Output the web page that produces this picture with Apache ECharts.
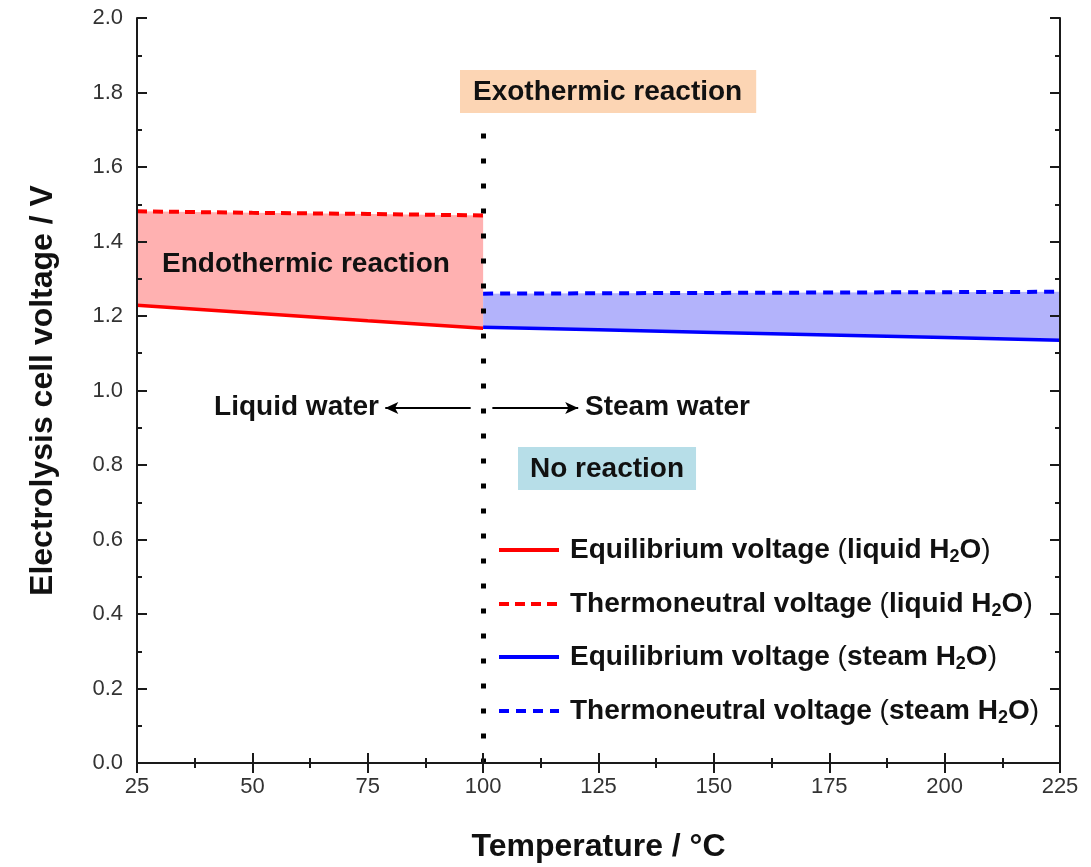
<!DOCTYPE html>
<html>
<head>
<meta charset="utf-8">
<script src="https://cdn.jsdelivr.net/npm/echarts@6/dist/echarts.min.js"></script>
<style>html,body{margin:0;padding:0;background:#fff}#c{width:1091px;height:867px}</style>
</head>
<body>
<div id="c"></div>
<script>
// Data
var liquidT = [25, 50, 75, 100];
var liquidEq = [1.229, 1.208, 1.187, 1.167];
var liquidTn = [1.481, 1.477, 1.474, 1.470];
var steamT = [100, 125, 150, 175, 200, 225];
var steamEq = [1.170, 1.163, 1.156, 1.149, 1.142, 1.135];
var steamTn = [1.260, 1.261, 1.262, 1.263, 1.264, 1.265];
var xTicks = [25, 50, 75, 100, 125, 150, 175, 200, 225];
var yTicks = [0.0, 0.2, 0.4, 0.6, 0.8, 1.0, 1.2, 1.4, 1.6, 1.8, 2.0];
var boilingT = 100;
var dividerTop = 1.69;
var seriesNames = ['Eq liquid', 'Tn liquid', 'Eq steam', 'Tn steam'];
var legendLabels = [
  'Equilibrium voltage {p|(}liquid H{sub|2}O{p|)}',
  'Thermoneutral voltage {p|(}liquid H{sub|2}O{p|)}',
  'Equilibrium voltage {p|(}steam H{sub|2}O{p|)}',
  'Thermoneutral voltage {p|(}steam H{sub|2}O{p|)}'
];

function pairs(xs, ys) { return xs.map(function (x, i) { return [x, ys[i]]; }); }

var FONT = 'Liberation Sans, Arial, sans-serif';
var chart = echarts.init(document.getElementById('c'));

var axisLine = { show: true, lineStyle: { color: '#1a1a1a', width: 2 } };
var tickStyle = { show: true, inside: true, length: 10, lineStyle: { color: '#1a1a1a', width: 2 } };
var minorStyle = { show: true, splitNumber: 2, length: 5, lineStyle: { color: '#1a1a1a', width: 2 } };

function bandSeries(xs, hi, lo, color) {
  var hiP = pairs(xs, hi), loP = pairs(xs, lo);
  return {
    type: 'custom', silent: true, z: 1,
    data: hiP,
    encode: { x: 0, y: 1 },
    renderItem: function (params, api) {
      if (params.dataIndex !== 0) return null;
      var pts = hiP.map(function (p) { return api.coord(p); })
        .concat(loP.slice().reverse().map(function (p) { return api.coord(p); }));
      return { type: 'polygon', shape: { points: pts }, style: { fill: color } };
    }
  };
}

var legendRich = {
  sub: { fontSize: 18, fontWeight: 'bold', fontFamily: FONT, color: '#111', padding: [14, 0, 0, 0] },
  p: { fontSize: 28, fontWeight: 'normal', fontFamily: FONT, color: '#111' }
};
var legendCenters = [550, 604, 657, 711];
var legendDash = ['solid', [10, 6], 'solid', [10, 7]];
var legends = seriesNames.map(function (n, i) {
  return {
    data: [n], left: 492, top: legendCenters[i] - 19, orient: 'vertical',
    itemWidth: 60, itemHeight: 16, itemGap: 0, selectedMode: false,
    itemStyle: { opacity: 0 },
    lineStyle: { width: 4, type: legendDash[i] },
    formatter: function () { return legendLabels[i]; },
    textStyle: { fontSize: 28, fontWeight: 'bold', fontFamily: FONT, color: '#111', rich: legendRich,
      padding: [0, 0, 0, 6] }
  };
});

var option = {
  animation: false,
  backgroundColor: '#fff',
  grid: { left: 137, right: 31, top: 18, bottom: 104, outerBoundsMode: 'none', containLabel: false },
  legend: legends,
  xAxis: [{
    type: 'value', min: 25, max: 225, interval: 25, position: 'bottom', z: 10,
    name: 'Temperature / °C', nameLocation: 'middle', nameGap: 68,
    nameTextStyle: { fontSize: 32, fontWeight: 'bold', fontFamily: FONT, color: '#111' },
    axisLine: axisLine, axisTick: tickStyle, minorTick: minorStyle,
    splitLine: { show: false },
    axisLabel: { fontSize: 22, color: '#333', fontFamily: FONT, margin: 13,
      formatter: function (v) { return xTicks.indexOf(v) >= 0 ? String(v) : ''; } }
  }, {
    type: 'value', min: 25, max: 225, interval: 25, position: 'top', z: 10,
    axisLine: axisLine, axisTick: tickStyle, minorTick: minorStyle,
    splitLine: { show: false }, axisLabel: { show: false }
  }],
  yAxis: [{
    type: 'value', min: 0, max: 2, interval: 0.2, position: 'left', z: 10,
    name: 'Electrolysis cell voltage / V', nameLocation: 'middle', nameGap: 78,
    nameTextStyle: { fontSize: 32, fontWeight: 'bold', fontFamily: FONT, color: '#111' },
    axisLine: axisLine, axisTick: tickStyle, minorTick: minorStyle,
    splitLine: { show: false },
    axisLabel: { fontSize: 22, color: '#333', fontFamily: FONT, margin: 14,
      formatter: function (v) { return yTicks.indexOf(+v.toFixed(1)) >= 0 ? v.toFixed(1) : ''; } }
  }, {
    type: 'value', min: 0, max: 2, interval: 0.2, position: 'right', z: 10,
    axisLine: axisLine, axisTick: tickStyle, minorTick: minorStyle,
    splitLine: { show: false }, axisLabel: { show: false }
  }],
  series: [
    bandSeries(liquidT, liquidTn, liquidEq, '#ffb1b1'),
    bandSeries(steamT, steamTn, steamEq, '#b3b3fb'),
    { type: 'line', name: seriesNames[0], data: pairs(liquidT, liquidEq), symbol: 'none', z: 5,
      lineStyle: { color: '#ff0000', width: 3.5 }, itemStyle: { color: '#ff0000' } },
    { type: 'line', name: seriesNames[1], data: pairs(liquidT, liquidTn), symbol: 'none', z: 5,
      lineStyle: { color: '#ff0000', width: 4, type: [10, 6] }, itemStyle: { color: '#ff0000' } },
    { type: 'line', name: seriesNames[2], data: pairs(steamT, steamEq), symbol: 'none', z: 5,
      lineStyle: { color: '#0000ff', width: 3.5 }, itemStyle: { color: '#0000ff' } },
    { type: 'line', name: seriesNames[3], data: pairs(steamT, steamTn), symbol: 'none', z: 5,
      lineStyle: { color: '#0000ff', width: 4, type: [10, 7] }, itemStyle: { color: '#0000ff' },
      markLine: {
        silent: true, symbol: 'none', label: { show: false }, animation: false,
        lineStyle: { color: '#000', width: 5, type: [5, 20] },
        data: [[{ coord: [boilingT, dividerTop] }, { coord: [boilingT, 0] }]]
      }
    },
    { type: 'line', name: 'arrows', data: [], symbol: 'none', z: 6,
      markLine: {
        silent: true, symbol: ['none', 'arrow'], symbolSize: [9, 13], label: { show: false },
        lineStyle: { color: '#000', width: 2, type: 'solid' },
        data: [
          [{ coord: [97.3, 0.953] }, { coord: [78.8, 0.953] }],
          [{ coord: [102.0, 0.953] }, { coord: [120.6, 0.953] }]
        ]
      }
    }
  ],
  graphic: [
    { type: 'text', left: 162, top: 250, z: 10,
      style: { text: 'Endothermic reaction', font: 'bold 28px ' + FONT, fill: '#111' } },
    { type: 'text', left: 460, top: 70, z: 10,
      style: { text: 'Exothermic reaction', font: 'bold 28px ' + FONT, fill: '#111',
        backgroundColor: '#fcd5b4', padding: [8, 14, 7, 13] } },
    { type: 'text', left: 518, top: 447, z: 10,
      style: { text: 'No reaction', font: 'bold 28px ' + FONT, fill: '#111',
        backgroundColor: '#b7dee8', padding: [8, 12, 7, 12] } },
    { type: 'text', right: 1091 - 379, top: 393, z: 10,
      style: { text: 'Liquid water', font: 'bold 28px ' + FONT, fill: '#111' } },
    { type: 'text', left: 585, top: 393, z: 10,
      style: { text: 'Steam water', font: 'bold 28px ' + FONT, fill: '#111' } }
  ]
};
chart.setOption(option);
</script>
</body>
</html>
